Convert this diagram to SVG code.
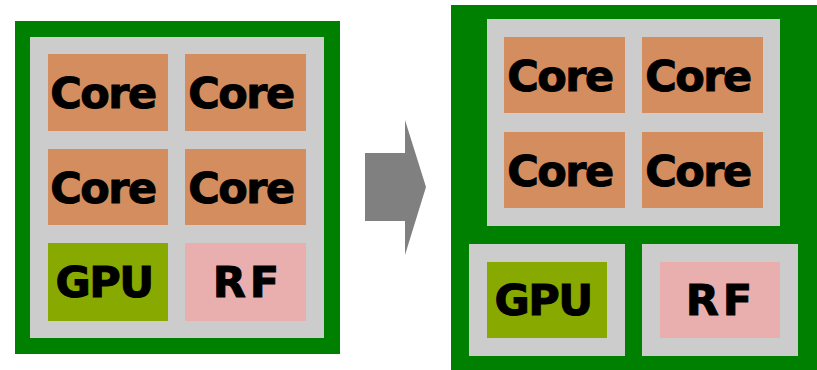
<svg xmlns="http://www.w3.org/2000/svg" width="817" height="370" viewBox="0 0 817 370">
  <style>
    .chip { fill: #008000; }
    .pkg { fill: #cccccc; }
    .core { fill: #d38d5f; }
    .gpu { fill: #88aa00; }
    .rf { fill: #e9afaf; }
    .lbl { font-family: "DejaVu Sans", Verdana, sans-serif; font-weight: bold; font-size: 43px; fill: #000; stroke: #000; stroke-width: 1; text-anchor: middle; letter-spacing: -1.5px; }
    .sp { letter-spacing: 4px; }
  </style>
  <rect width="817" height="370" fill="#ffffff"/>

  <!-- Single-package SoC -->
  <g id="soc-before">
    <rect class="chip" x="15" y="21" width="325" height="333"/>
    <rect class="pkg" x="30" y="37" width="294" height="301"/>
    <g id="b-core1"><rect class="core" x="48" y="54" width="120" height="77"/><text class="lbl" x="103" y="108">Core</text></g>
    <g id="b-core2"><rect class="core" x="185" y="54" width="121" height="77"/><text class="lbl" x="241" y="108">Core</text></g>
    <g id="b-core3"><rect class="core" x="48" y="149" width="120" height="76"/><text class="lbl" x="103" y="203">Core</text></g>
    <g id="b-core4"><rect class="core" x="185" y="149" width="121" height="76"/><text class="lbl" x="241" y="203">Core</text></g>
    <g id="b-gpu"><rect class="gpu" x="48" y="243" width="120" height="78"/><text class="lbl" x="104" y="297">GPU</text></g>
    <g id="b-rf"><rect class="rf" x="185" y="243" width="121" height="78"/><text class="lbl sp" x="248" y="297">RF</text></g>
  </g>

  <!-- Transition arrow -->
  <g id="connectors">
    <polygon fill="#808080" points="365,153 405,153 405,120 426,187 405,255 405,221 365,221"/>
  </g>

  <!-- Split packages on one board -->
  <g id="soc-after">
    <rect class="chip" x="451" y="5" width="366" height="365"/>
    <g id="a-cpu">
      <rect class="pkg" x="487" y="19" width="293" height="207"/>
      <g id="a-core1"><rect class="core" x="504" y="37" width="121" height="76"/><text class="lbl" x="560" y="91">Core</text></g>
      <g id="a-core2"><rect class="core" x="642" y="37" width="121" height="76"/><text class="lbl" x="698" y="91">Core</text></g>
      <g id="a-core3"><rect class="core" x="504" y="132" width="121" height="76"/><text class="lbl" x="560" y="186">Core</text></g>
      <g id="a-core4"><rect class="core" x="642" y="132" width="121" height="76"/><text class="lbl" x="698" y="186">Core</text></g>
    </g>
    <g id="a-gpu">
      <rect class="pkg" x="469" y="244" width="156" height="112"/>
      <rect class="gpu" x="487" y="262" width="120" height="76"/>
      <text class="lbl" x="543" y="315">GPU</text>
    </g>
    <g id="a-rf">
      <rect class="pkg" x="642" y="244" width="156" height="112"/>
      <rect class="rf" x="660" y="262" width="120" height="76"/>
      <text class="lbl sp" x="721" y="315">RF</text>
    </g>
  </g>
</svg>
